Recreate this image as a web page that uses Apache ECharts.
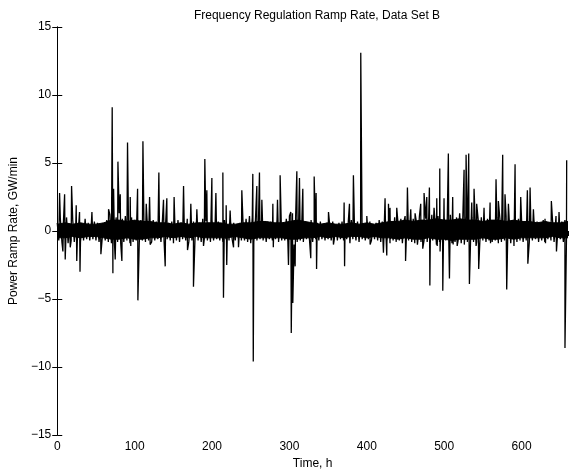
<!DOCTYPE html>
<html>
<head>
<meta charset="utf-8">
<script src="https://cdn.jsdelivr.net/npm/echarts@6/dist/echarts.min.js"></script>
<style>
  html, body { margin: 0; padding: 0; background: #fff; }
  #rampChart { width: 569px; height: 475px; }
</style>
</head>
<body>
<div id="rampChart"></div>
<script>
  // fast ripple, one sample every 2 h starting at t = 0
  const bandStep = 2;
  const band = [
    0.6,-0.7,0.9,-0.8,0.7,-0.6,1.0,-0.9,0.5,-0.7,0.8,-0.8,0.6,-0.6,0.7,-0.8,0.5,-0.7,0.9,-0.6,0.6,-0.7,0.5,-0.6,0.7,-0.7,0.6,-0.8,0.4,-0.6,
    0.5,-0.7,0.8,-0.8,1.2,-0.9,1.4,-1.0,1.0,-0.8,1.3,-0.9,0.9,-0.8,1.1,-0.7,0.8,-0.9,1.0,-0.8,0.7,-0.7,0.9,-0.8,0.8,-0.7,0.7,-0.8,0.9,-0.7,
    0.6,-0.8,0.8,-0.7,0.7,-0.6,0.6,-0.8,0.9,-0.7,0.5,-0.6,0.6,-0.7,0.7,-0.6,0.5,-0.7,0.8,-0.8,0.6,-0.6,0.7,-0.7,0.9,-0.8,0.6,-0.7,0.7,-0.6,
    0.8,-0.7,0.6,-0.8,0.9,-0.6,0.7,-0.7,0.6,-0.8,0.8,-0.7,0.5,-0.6,0.7,-0.7,0.6,-0.8,0.8,-0.6,0.5,-0.7,0.7,-0.6,0.6,-0.7,0.5,-0.6,0.6,-0.7,
    0.7,-0.7,0.9,-0.8,0.8,-0.9,1.0,-0.8,0.7,-0.7,0.6,-0.6,0.8,-0.7,0.6,-0.8,0.5,-0.6,0.7,-0.7,0.6,-0.6,0.8,-0.8,0.7,-0.7,0.6,-0.7,0.9,-0.8,
    1.1,-0.9,1.3,-1.0,1.0,-0.8,0.8,-0.7,0.6,-0.8,0.7,-0.6,0.6,-0.7,0.8,-0.8,0.5,-0.6,0.6,-0.7,0.7,-0.6,0.5,-0.7,0.6,-0.6,0.5,-0.7,0.7,-0.6,
    0.5,-0.7,0.6,-0.6,0.7,-0.7,0.5,-0.6,0.6,-0.7,0.8,-0.6,0.5,-0.7,0.7,-0.8,0.6,-0.6,0.5,-0.7,0.6,-0.6,0.7,-0.7,0.5,-0.6,0.6,-0.7,0.8,-0.8,
    0.7,-0.7,0.9,-0.8,0.8,-0.9,0.7,-0.7,1.0,-0.8,0.8,-0.7,0.9,-0.9,0.7,-0.8,1.0,-0.7,0.8,-0.8,0.9,-0.9,0.7,-0.7,1.1,-0.8,0.8,-0.7,0.9,-0.8,
    1.0,-0.9,1.2,-0.8,0.9,-1.0,1.1,-0.8,0.8,-0.9,1.0,-0.7,0.9,-0.8,1.2,-0.9,0.8,-0.8,1.0,-0.7,1.3,-0.9,0.9,-1.0,1.1,-0.8,0.8,-0.9,1.0,-0.8,
    0.9,-0.8,0.8,-0.9,1.0,-0.7,0.7,-0.8,0.9,-0.7,0.8,-0.8,0.7,-0.7,1.0,-0.9,0.9,-0.8,0.8,-0.7,1.1,-0.8,0.9,-0.9,0.8,-0.7,0.7,-0.8,0.9,-0.7,
    0.8,-0.8,0.7,-0.7,0.9,-0.8,0.6,-0.7,0.8,-0.6,0.7,-0.8,0.6,-0.7,0.8,-0.8,0.7,-0.6,0.6,-0.7,0.8,-0.8,0.7,-0.7,0.6,-0.6,0.7,-0.8,0.8,-0.7
  ];

  // solid core of the band, one sample every 10 h
  const coreStep = 10;
  const coreUpper = [
    0.5,0.6,0.5,0.6,0.5,0.5,0.6,
    0.8,0.8,0.7,0.8,0.7,0.7,
    0.6,0.6,0.5,0.6,0.5,0.6,0.6,0.6,
    0.6,0.5,0.5,0.6,0.6,0.7,0.7,0.6,0.6,
    0.7,0.8,0.7,0.6,0.5,0.6,
    0.5,0.5,0.6,0.5,0.6,0.5,
    0.6,0.7,0.7,0.8,0.7,0.8,0.8,0.9,0.8,0.8,0.9,
    0.8,0.8,0.7,0.8,0.8,0.7,0.8,0.7,
    0.7,0.6,0.7,0.6,0.6,0.7
  ];
  const coreLower = [
    -0.5,-0.5,-0.4,-0.5,-0.4,-0.4,-0.5,
    -0.6,-0.6,-0.5,-0.6,-0.6,-0.5,
    -0.5,-0.4,-0.5,-0.4,-0.5,-0.4,-0.5,-0.5,
    -0.5,-0.5,-0.4,-0.5,-0.6,-0.5,-0.5,-0.5,-0.5,
    -0.6,-0.6,-0.5,-0.5,-0.4,-0.5,
    -0.4,-0.5,-0.4,-0.4,-0.5,-0.4,
    -0.5,-0.5,-0.6,-0.5,-0.6,-0.6,-0.5,-0.6,-0.6,-0.7,-0.6,
    -0.6,-0.6,-0.5,-0.6,-0.6,-0.5,-0.6,-0.5,
    -0.5,-0.5,-0.5,-0.4,-0.5,-0.5
  ];

  // upward spikes [time h, GW/min]
  const upSpikes = [
    [3.0,2.8],[9.5,2.7],[18.5,3.3],[24.5,1.9],[28.8,1.4],[44.8,1.4],[66.3,1.6],[71,9.1],[72.8,3.1],[78.4,5.1],
    [81.4,2.7],[90.8,6.5],[94.3,2.5],[103.8,3.1],[110.7,6.6],[115,2.0],[119.3,2.5],[131.3,4.3],[137.3,2.3],[141.6,2.4],
    [151,2.5],[163.2,3.3],[172.6,2.0],[180.4,1.6],[190.7,5.3],[193.3,3.0],[199.8,3.9],[205,2.8],[214,4.3],[218.3,1.9],
    [223.4,1.5],[238.5,3.0],[248.4,1.1],[252.7,4.2],[257.9,3.3],[261.3,4.3],[264.4,2.3],[278.6,2.0],[284.6,2.3],[288,4.1],
    [301.8,1.4],[309.6,4.4],[313,3.9],[317.3,3.1],[332,4.0],[334.5,2.8],[350.5,1.4],[370.7,2.1],[377.6,2.0],[382.7,4.1],
    [392.2,13.1],[400,1.1],[423.6,2.4],[428,2.0],[430,1.7],[438.7,1.7],[449.5,1.1],[452.5,3.2],[456.8,1.6],[462.4,1.3],
    [469.7,2.0],[474,2.8],[477.5,2.5],[480.9,3.2],[486.9,1.7],[490.4,2.4],[494.3,4.6],[499.8,2.4],[505.4,5.7],[511,2.5],
    [516.2,1.0],[525.7,4.5],[528.3,5.6],[531.7,5.7],[535.6,2.1],[538.6,3.1],[542,2.0],[551.5,1.7],[559.3,2.1],[567,3.8],
    [570,2.2],[575.6,5.6],[578.6,2.7],[583,2.0],[591.6,4.9],[598.9,2.5],[607.5,3.0],[611,3.2],[615.3,1.6],[630.3,0.9],
    [638.5,2.2],[644.5,1.1],[648.4,1.4],[658.3,5.2]
  ];

  // downward spikes [time h, GW/min]
  const downSpikes = [
    [7.3,-1.5],[10.3,-2.1],[16.8,-1.2],[25.2,-2.2],[29.4,-3.0],[56.4,-1.7],[71.9,-3.1],[74.9,-2.1],[83.5,-2.2],[95,-1.1],
    [104.2,-5.1],[120,-1.0],[139.5,-2.6],[150.2,-0.9],[168.3,-1.4],[176,-4.1],[189,-1.1],[214.8,-4.9],[219,-2.5],[227.8,-1.2],
    [234.2,-1.2],[242.8,-0.8],[253.3,-9.6],[270.8,-0.9],[279.2,-1.2],[298.8,-2.5],[302.4,-7.5],[304.4,-5.3],[307.4,-2.6],[327.6,-2.0],
    [335.1,-2.8],[356.9,-1.0],[371.3,-2.6],[378.2,-0.9],[404.3,-1.0],[421.5,-1.6],[425.8,-1.8],[430.6,-0.6],[438.2,-0.9],[450.1,-2.2],
    [465.4,-1.0],[472.3,-1.3],[481.5,-4.0],[485.2,-0.7],[491,-1.1],[494.7,-1.5],[498.2,-4.4],[506.8,-3.5],[511.6,-1.0],[516.8,-1.1],
    [532.6,-3.9],[541.2,-1.1],[544.6,-2.8],[559.9,-0.9],[580.8,-4.3],[590.2,-1.1],[608.1,-2.4],[619.5,-0.7],[630.9,-0.9],[645.1,-1.5],
    [656.1,-8.6]
  ];

  const xTicks = [0, 100, 200, 300, 400, 500, 600];
  const yTicks = [-15, -10, -5, 0, 5, 10, 15];

  let points = band.map((v, i) => [i * bandStep, v]);
  points = points.concat(upSpikes, downSpikes);
  points.sort((a, b) => a[0] - b[0]);
  const upperPts = coreUpper.map((v, i) => [i * coreStep, v]);
  const lowerPts = coreLower.map((v, i) => [i * coreStep, v]);

  const font = "'Liberation Sans', Arial, Helvetica, sans-serif";
  const fs = 12;
  const minus = v => String(v).replace('-', '\u2212');
  const myChart = echarts.init(document.getElementById('rampChart'), null, { renderer: 'canvas' });

  const baseAxis = {
    axisLine: { show: true, lineStyle: { color: '#000', width: 1 } },
    axisTick: { show: true, inside: true, length: 5, lineStyle: { color: '#000' } },
    splitLine: { show: false }
  };

  const coreSeries = data => ({
    type: 'line',
    data,
    showSymbol: false,
    symbol: 'none',
    lineStyle: { color: '#000', width: 1 },
    areaStyle: { color: '#000', opacity: 1, origin: 0 },
    z: 1
  });

  const option = {
    animation: false,
    backgroundColor: '#fff',
    title: {
      text: 'Frequency Regulation Ramp Rate, Data Set B',
      left: 312,
      textAlign: 'center',
      top: 5,
      textStyle: { fontFamily: font, fontSize: fs, fontWeight: 'normal', color: '#000' }
    },
    grid: { left: 57, right: 1, top: 27, bottom: 40 },
    xAxis: [
      Object.assign({}, baseAxis, {
        type: 'value',
        min: 0,
        max: 660,
        interval: 100,
        position: 'bottom',
        name: 'Time, h',
        nameLocation: 'middle',
        nameGap: 20,
        nameTextStyle: { fontFamily: font, fontSize: fs, color: '#000' },
        axisLabel: {
          show: true, margin: 6, fontFamily: font, fontSize: fs, color: '#000',
          showMaxLabel: false,
          formatter: v => xTicks.includes(v) ? String(v) : ''
        }
      }),
      Object.assign({}, baseAxis, {
        type: 'value',
        min: 0,
        max: 660,
        interval: 100,
        position: 'top',
        axisLabel: { show: false }
      })
    ],
    yAxis: [
      Object.assign({}, baseAxis, {
        type: 'value',
        min: -15,
        max: 15,
        interval: 5,
        position: 'left',
        name: 'Power Ramp Rate, GW/min',
        nameLocation: 'middle',
        nameGap: 34,
        nameTextStyle: { fontFamily: font, fontSize: fs, color: '#000' },
        axisLabel: {
          show: true, margin: 6, fontFamily: font, fontSize: fs, color: '#000',
          formatter: v => yTicks.includes(v) ? minus(v) : ''
        }
      }),
      Object.assign({}, baseAxis, {
        type: 'value',
        min: -15,
        max: 15,
        interval: 5,
        position: 'right',
        axisLabel: { show: false }
      })
    ],
    series: [
      coreSeries(upperPts),
      coreSeries(lowerPts),
      {
        type: 'line',
        data: points,
        showSymbol: false,
        symbol: 'none',
        sampling: null,
        lineStyle: { color: '#000', width: 1.3 },
        z: 2
      }
    ]
  };

  myChart.setOption(option);
  window.addEventListener('resize', myChart.resize);
</script>
</body>
</html>
